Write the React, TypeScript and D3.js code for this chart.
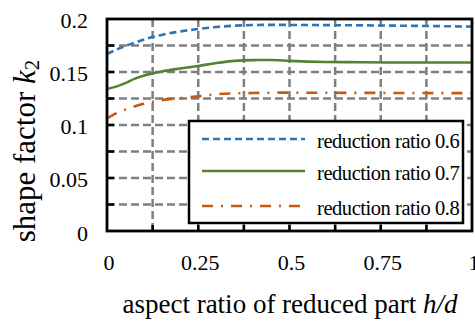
import React from "react";
import * as d3 from "d3";

const xs = [0, 0.025, 0.05, 0.075, 0.1, 0.125, 0.15, 0.2, 0.25, 0.3, 0.35, 0.4, 0.45, 0.5, 0.6, 0.7, 0.8, 0.9, 1.0];
const ratio06 = [0.167, 0.171, 0.1745, 0.1775, 0.1805, 0.183, 0.185, 0.1882, 0.1906, 0.1925, 0.1937, 0.1943, 0.1945, 0.1944, 0.1942, 0.194, 0.1937, 0.1933, 0.1928];
const ratio07 = [0.134, 0.1362, 0.1395, 0.1435, 0.1465, 0.1487, 0.1505, 0.1533, 0.1557, 0.1585, 0.1605, 0.1612, 0.1613, 0.1605, 0.1595, 0.1592, 0.159, 0.159, 0.159];
const ratio08 = [0.1063, 0.111, 0.1145, 0.1175, 0.12, 0.122, 0.1235, 0.1253, 0.127, 0.129, 0.1298, 0.1302, 0.1305, 0.1305, 0.1304, 0.1303, 0.1302, 0.1301, 0.13];
const seriesNames = ["reduction ratio 0.6", "reduction ratio 0.7", "reduction ratio 0.8"];
const xTickLabels = [0, 0.25, 0.5, 0.75, 1];
const yTickLabels = [0, 0.05, 0.1, 0.15, 0.2];

const W = 475, H = 323;
const L = 107, R = 472, T = 19, B = 231;
const FONT = "'Liberation Serif', 'Times New Roman', serif";

const seriesStyles = [
  { color: "#2e75b6", dash: "7,4" },
  { color: "#548235", dash: null },
  { color: "#c55a11", dash: "11,8,2,8" },
];

export default function App() {
  const x = d3.scaleLinear().domain([0, 1]).range([L, R]);
  const y = d3.scaleLinear().domain([0, 0.2]).range([B, T]);
  const gridX = d3.range(1, 8).map((i) => i * 0.125);
  const gridY = d3.range(1, 8).map((i) => i * 0.025);
  const line = d3
    .line<number>()
    .x((_, i) => x(xs[i]))
    .y((d) => y(d))
    .curve(d3.curveMonotoneX);
  const allSeries = [ratio06, ratio07, ratio08];
  const fmt = (v: number) => (v === 0 ? "0" : String(v));

  const legY = [139, 171, 206];

  return (
    <svg width={W} height={H} style={{ position: "absolute", left: 0, top: 0, background: "#fff" }}>
      <rect x={0} y={0} width={W} height={H} fill="#fff" />
      {/* grid */}
      {gridX.map((v) => (
        <line key={"gx" + v} x1={x(v)} x2={x(v)} y1={T} y2={B} stroke="#7f7f7f" strokeWidth={2.5} strokeDasharray="8,4" />
      ))}
      {gridY.map((v) => (
        <line key={"gy" + v} x1={L} x2={R} y1={y(v)} y2={y(v)} stroke="#7f7f7f" strokeWidth={2.5} strokeDasharray="8,4" />
      ))}
      {/* ticks */}
      {gridY.map((v) => (
        <line key={"ty" + v} x1={L} x2={L + 7} y1={y(v)} y2={y(v)} stroke="#000" strokeWidth={2.5} />
      ))}
      {gridX.map((v) => (
        <line key={"tx" + v} x1={x(v)} x2={x(v)} y1={B} y2={B - 6} stroke="#000" strokeWidth={2.5} />
      ))}
      {/* series */}
      {allSeries.map((s, i) => (
        <path
          key={"s" + i}
          d={line(s) || ""}
          fill="none"
          stroke={seriesStyles[i].color}
          strokeWidth={2.6}
          strokeDasharray={seriesStyles[i].dash || undefined}
        />
      ))}
      {/* frame */}
      <rect x={L} y={T} width={R - L} height={B - T} fill="none" stroke="#000" strokeWidth={2.8} />
      {/* y tick labels */}
      {yTickLabels.map((v) => (
        <text key={"yl" + v} x={88} y={y(v) + (v === 0 ? 10 : 8.5)} textAnchor="end" fontFamily={FONT} fontSize={22} fill="#000">
          {fmt(v)}
        </text>
      ))}
      {xTickLabels.map((v) => (
        <text key={"xl" + v} x={x(v) + 2} y={270} textAnchor="middle" fontFamily={FONT} fontSize={22} fill="#000">
          {fmt(v)}
        </text>
      ))}
      {/* axis titles */}
      <text x={290} y={313} textAnchor="middle" fontFamily={FONT} fontSize={27} fill="#000">
        aspect ratio of reduced part <tspan fontStyle="italic">h/d</tspan>
      </text>
      <text
        transform={`translate(35,151) rotate(-90)`}
        textAnchor="middle"
        fontFamily={FONT}
        fontSize={31}
        fill="#000"
      >
        shape factor <tspan fontStyle="italic">k</tspan>
        <tspan fontSize={21} dy={4}>2</tspan>
      </text>
      {/* legend */}
      <rect x={189} y={121} width={274} height={102} fill="#fff" stroke="#000" strokeWidth={2.5} />
      {seriesNames.map((n, i) => (
        <g key={"lg" + i}>
          <line
            x1={202}
            x2={305}
            y1={legY[i]}
            y2={legY[i]}
            stroke={seriesStyles[i].color}
            strokeWidth={2.6}
            strokeDasharray={seriesStyles[i].dash || undefined}
          />
          <text x={317} y={legY[i] + 8.5} fontFamily={FONT} fontSize={20.5} letterSpacing={-0.45} fill="#000">
            {n}
          </text>
        </g>
      ))}
    </svg>
  );
}
